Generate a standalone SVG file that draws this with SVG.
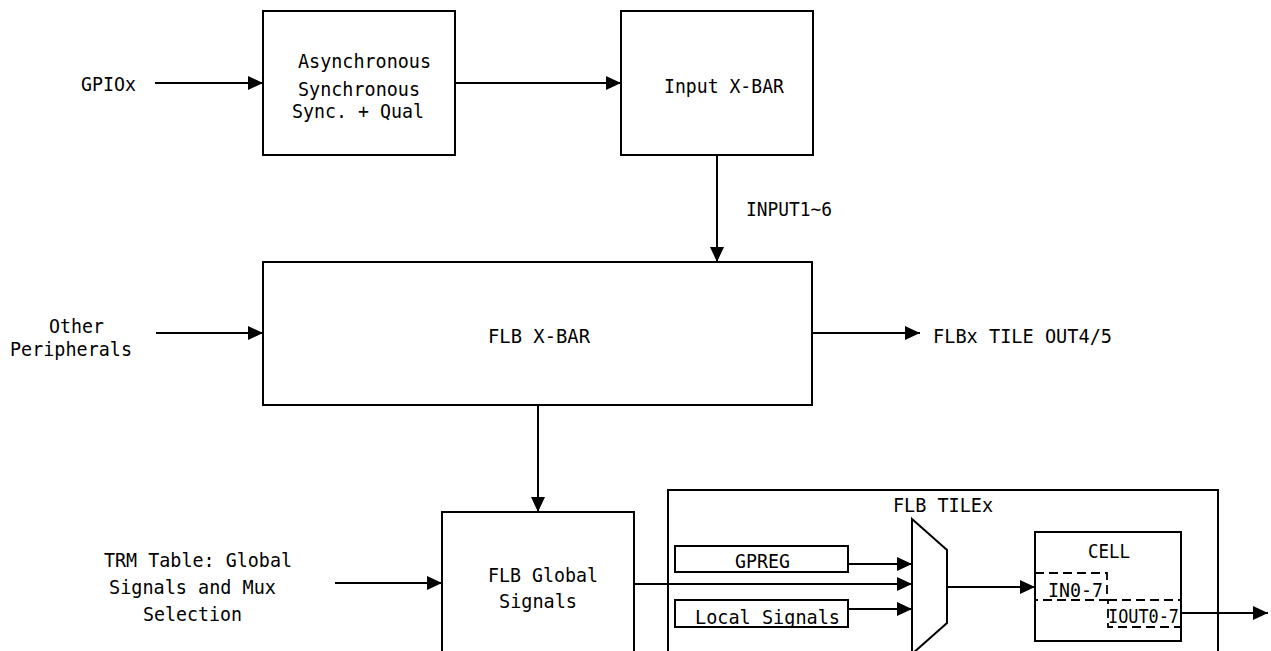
<svg xmlns="http://www.w3.org/2000/svg" width="1271" height="651" viewBox="0 0 1271 651">
<style>
.box{fill:none;stroke:#000;stroke-width:2}
.dash{fill:none;stroke:#000;stroke-width:1.8;stroke-dasharray:9 5}
.con{stroke:#000;stroke-width:2;fill:none;marker-end:url(#ah)}
text{font-family:"DejaVu Sans Mono","Liberation Mono",monospace;font-size:20px;fill:#000}
</style>
<defs>
<marker id="ah" markerWidth="15" markerHeight="14" refX="15" refY="7" orient="auto" markerUnits="userSpaceOnUse">
<path d="M0,0 L15,7 L0,14 z" fill="#000"/>
</marker>
</defs>
<rect width="1271" height="651" fill="#fff"/>
<g id="gpiox"><text x="81" y="91" textLength="55" lengthAdjust="spacingAndGlyphs">GPIOx</text></g>
<g id="sync">
<rect class="box" x="263" y="11" width="192" height="144"/>
<text x="298" y="68" textLength="133" lengthAdjust="spacingAndGlyphs">Asynchronous</text>
<text x="298" y="96" textLength="122" lengthAdjust="spacingAndGlyphs">Synchronous</text>
<text x="292" y="118" textLength="132" lengthAdjust="spacingAndGlyphs">Sync. + Qual</text>
</g>
<g id="inputxbar">
<rect class="box" x="621" y="11" width="192" height="144"/>
<text x="664" y="93" textLength="120" lengthAdjust="spacingAndGlyphs">Input X-BAR</text>
</g>
<g id="input16"><text x="746" y="216" textLength="86" lengthAdjust="spacingAndGlyphs">INPUT1~6</text></g>
<g id="other">
<text x="49" y="333" textLength="55" lengthAdjust="spacingAndGlyphs">Other</text>
<text x="10" y="356" textLength="122" lengthAdjust="spacingAndGlyphs">Peripherals</text>
</g>
<g id="flbxbar">
<rect class="box" x="263" y="262" width="549" height="143"/>
<text x="488" y="343" textLength="102" lengthAdjust="spacingAndGlyphs">FLB X-BAR</text>
</g>
<g id="tileout"><text x="933" y="343" textLength="179" lengthAdjust="spacingAndGlyphs">FLBx TILE OUT4/5</text></g>
<g id="trm">
<text x="104" y="567" textLength="188" lengthAdjust="spacingAndGlyphs">TRM Table: Global</text>
<text x="109" y="594" textLength="167" lengthAdjust="spacingAndGlyphs">Signals and Mux</text>
<text x="143" y="621" textLength="99" lengthAdjust="spacingAndGlyphs">Selection</text>
</g>
<g id="flbglobal">
<rect class="box" x="442" y="512" width="192" height="160"/>
<text x="488" y="582" textLength="110" lengthAdjust="spacingAndGlyphs">FLB Global</text>
<text x="499" y="608" textLength="78" lengthAdjust="spacingAndGlyphs">Signals</text>
</g>
<g id="tile">
<rect class="box" x="668" y="490" width="550" height="180"/>
<text x="893" y="512" textLength="100" lengthAdjust="spacingAndGlyphs">FLB TILEx</text>
</g>
<g id="gpreg">
<rect class="box" x="675" y="546" width="173" height="26"/>
<text x="735" y="568" textLength="55" lengthAdjust="spacingAndGlyphs">GPREG</text>
</g>
<g id="local">
<rect class="box" x="675" y="600" width="173" height="27"/>
<text x="695" y="624" textLength="145" lengthAdjust="spacingAndGlyphs">Local Signals</text>
</g>
<g id="mux"><polygon class="box" points="912,519 947,550 947,623 912,654"/></g>
<g id="cell">
<rect class="box" x="1035" y="532" width="146" height="109"/>
<text x="1088" y="558" textLength="42" lengthAdjust="spacingAndGlyphs">CELL</text>
<rect class="dash" x="1035" y="573" width="72" height="27"/>
<text x="1048" y="597" textLength="55" lengthAdjust="spacingAndGlyphs">IN0-7</text>
<rect class="dash" x="1108" y="600" width="73" height="27"/>
<text x="1108" y="623" textLength="71" lengthAdjust="spacingAndGlyphs">IOUT0-7</text>
</g>
<g id="connectors">
<line class="con" x1="155" y1="83" x2="263" y2="83"/>
<line class="con" x1="455" y1="83" x2="621" y2="83"/>
<line class="con" x1="717" y1="155" x2="717" y2="262"/>
<line class="con" x1="156" y1="333" x2="263" y2="333"/>
<line class="con" x1="812" y1="333" x2="920" y2="333"/>
<line class="con" x1="538" y1="405" x2="538" y2="512"/>
<line class="con" x1="335" y1="583" x2="442" y2="583"/>
<line class="con" x1="634" y1="584" x2="912" y2="584"/>
<line class="con" x1="848" y1="564" x2="912" y2="564"/>
<line class="con" x1="848" y1="609" x2="912" y2="609"/>
<line class="con" x1="947" y1="587" x2="1035" y2="587"/>
<line class="con" x1="1181" y1="613" x2="1268" y2="613"/>
</g>
</svg>
